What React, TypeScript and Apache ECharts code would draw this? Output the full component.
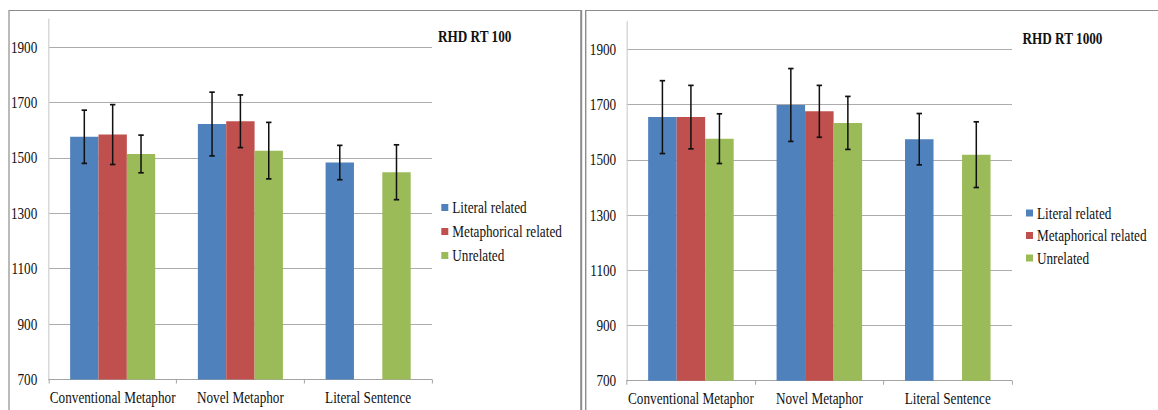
import React, { useEffect, useRef } from "react";
import * as echarts from "echarts";

// Categories, series and tick labels
const categories = ["Conventional Metaphor", "Novel Metaphor", "Literal Sentence"];
const seriesNames = ["Literal related", "Metaphorical related", "Unrelated"];
const seriesColors = ["#4F81BD", "#C0504D", "#9BBB59"];
const yTickLabels = [700, 900, 1100, 1300, 1500, 1700, 1900];

// RHD RT 100: means and error half-widths
const rt100Literal = [1576, 1622, 1483];
const rt100Metaphorical = [1584, 1632, null];
const rt100Unrelated = [1514, 1526, 1448];
const rt100LiteralErr = [96, 115, 62];
const rt100MetaphoricalErr = [108, 95, null];
const rt100UnrelatedErr = [68, 102, 99];

// RHD RT 1000: means and error half-widths
const rt1000Literal = [1655, 1699, 1575];
const rt1000Metaphorical = [1655, 1676, null];
const rt1000Unrelated = [1577, 1634, 1519];
const rt1000LiteralErr = [132, 132, 93];
const rt1000MetaphoricalErr = [115, 94, null];
const rt1000UnrelatedErr = [90, 96, 119];

const Y_MIN = 700;
const Y_MAX = 2000;
const Y_STEP = 100;

// The whole chart is drawn wider and squeezed horizontally, giving the narrow serif look.
const SX = 0.8;
const PAGE_W = 1158;
const PAGE_H = 410;
const W = PAGE_W / SX;
const sx = (x: number) => x / SX;

const FONT = "Liberation Serif, DejaVu Serif, serif";
const FONT_SIZE = 16.5;
const TEXT_COLOR = "#111111";
const GRID_COLOR = "#a3a3a3";
const BORDER_COLOR = "#8c8c8c";
const CATEGORY_GAP = 0.334;

type Num = number | null;

function errorData(values: Num[][], errs: Num[][]) {
  const out: number[][] = [];
  values.forEach((vals, s) => {
    vals.forEach((v, c) => {
      const e = errs[s][c];
      if (v == null || e == null) return;
      out.push([c, s, v - e, v + e]);
    });
  });
  return out;
}

function renderErrorBar(_params: any, api: any) {
  const cat = api.value(0);
  const sIdx = api.value(1);
  const low = api.value(2);
  const high = api.value(3);
  const band = api.size([1, 0])[0];
  const barW = (band * (1 - CATEGORY_GAP)) / 3;
  const pLow = api.coord([cat, low]);
  const pHigh = api.coord([cat, high]);
  const xc = pLow[0] + (sIdx - 1) * barW;
  const cap = 3.4;
  const vStyle = { stroke: "#111", lineWidth: 1.9 };
  const hStyle = { stroke: "#111", lineWidth: 1.7 };
  return {
    type: "group",
    children: [
      { type: "line", shape: { x1: xc, y1: pHigh[1], x2: xc, y2: pLow[1] }, style: vStyle },
      { type: "line", shape: { x1: xc - cap, y1: pHigh[1], x2: xc + cap, y2: pHigh[1] }, style: hStyle },
      { type: "line", shape: { x1: xc - cap, y1: pLow[1], x2: xc + cap, y2: pLow[1] }, style: hStyle },
    ],
  };
}

function xAxisFor(gridIndex: number) {
  return {
    type: "category",
    gridIndex,
    data: categories,
    boundaryGap: true,
    axisLine: { show: true, lineStyle: { color: GRID_COLOR, width: 1 } },
    axisTick: { show: true, length: 4, lineStyle: { color: GRID_COLOR, width: 1.25 } },
    axisLabel: {
      interval: 0,
      margin: 9,
      fontSize: FONT_SIZE,
      fontFamily: FONT,
      color: TEXT_COLOR,
    },
  };
}

function yAxisFor(gridIndex: number, margin: number) {
  return {
    type: "value",
    gridIndex,
    min: Y_MIN,
    max: Y_MAX,
    interval: Y_STEP,
    axisLine: { show: true, lineStyle: { color: "#d2d2d2", width: 1.6 } },
    axisTick: { show: false },
    axisLabel: {
      margin,
      fontSize: FONT_SIZE,
      fontFamily: FONT,
      color: TEXT_COLOR,
      formatter: (v: number) => (yTickLabels.includes(v) ? String(v) : ""),
    },
    splitLine: {
      show: true,
      showMinLine: true,
      showMaxLine: false,
      lineStyle: { color: [GRID_COLOR, "rgba(0,0,0,0)"], width: 1 },
    },
  };
}

function barSeries(gridIndex: number, values: Num[][]) {
  return values.map((data, s) => ({
    name: seriesNames[s],
    type: "bar",
    xAxisIndex: gridIndex,
    yAxisIndex: gridIndex,
    data,
    barGap: "0%",
    barCategoryGap: `${CATEGORY_GAP * 100}%`,
    itemStyle: { color: seriesColors[s] },
    emphasis: { disabled: true },
  }));
}

function errorSeries(gridIndex: number, values: Num[][], errs: Num[][]) {
  return {
    type: "custom",
    xAxisIndex: gridIndex,
    yAxisIndex: gridIndex,
    renderItem: renderErrorBar,
    encode: { x: 0, y: [2, 3] },
    data: errorData(values, errs),
    z: 10,
    silent: true,
  };
}

function legendAt(left: number, top: number, gap: number) {
  return {
    data: seriesNames,
    orient: "vertical",
    left,
    top,
    padding: 0,
    icon: "rect",
    itemWidth: 8.75,
    itemHeight: 7,
    itemGap: gap,
    selectedMode: false,
    textStyle: { fontSize: FONT_SIZE, fontFamily: FONT, color: TEXT_COLOR, lineHeight: 18 },
  };
}

function titleAt(text: string, left: number, top: number) {
  return {
    text,
    left,
    top,
    padding: 0,
    textStyle: { fontSize: FONT_SIZE, fontWeight: "bold", fontFamily: FONT, color: "#111" },
  };
}

function vLine(x: number, y1: number, y2: number, w: number) {
  return {
    type: "line",
    shape: { x1: sx(x), y1, x2: sx(x), y2 },
    style: { stroke: BORDER_COLOR, lineWidth: w / SX },
    silent: true,
  };
}

function hLine(x1: number, x2: number, y: number) {
  return {
    type: "line",
    shape: { x1: sx(x1), y1: y, x2: sx(x2), y2: y },
    style: { stroke: BORDER_COLOR, lineWidth: 1.2 },
    silent: true,
  };
}

export default function App() {
  const ref = useRef<HTMLDivElement>(null);

  useEffect(() => {
    if (!ref.current) return;
    const chart = echarts.init(ref.current, null, { renderer: "svg" });

    const rt100Values = [rt100Literal, rt100Metaphorical, rt100Unrelated];
    const rt100Errs = [rt100LiteralErr, rt100MetaphoricalErr, rt100UnrelatedErr];
    const rt1000Values = [rt1000Literal, rt1000Metaphorical, rt1000Unrelated];
    const rt1000Errs = [rt1000LiteralErr, rt1000MetaphoricalErr, rt1000UnrelatedErr];

    chart.setOption({
      animation: false,
      backgroundColor: "#ffffff",
      title: [titleAt("RHD RT 100", sx(438), 28), titleAt("RHD RT 1000", sx(1022.5), 30)],
      legend: [legendAt(sx(441.3), 198.5, 6), legendAt(sx(1026), 204, 4.5)],
      grid: [
        { left: sx(48.8), width: sx(432) - sx(48.8), top: 19.3, height: 379.5 - 19.3 },
        { left: sx(626.7), width: sx(1012) - sx(626.7), top: 21.9, height: 380.7 - 21.9 },
      ],
      xAxis: [xAxisFor(0), xAxisFor(1)],
      yAxis: [yAxisFor(0, sx(11.5)), yAxisFor(1, sx(10.5))],
      series: [
        ...barSeries(0, rt100Values),
        errorSeries(0, rt100Values, rt100Errs),
        ...barSeries(1, rt1000Values),
        errorSeries(1, rt1000Values, rt1000Errs),
      ],
      graphic: [
        hLine(9, 581.7, 10.5),
        vLine(9, 10, PAGE_H, 1.2),
        vLine(581.2, 10, PAGE_H, 2),
        hLine(585.7, PAGE_W, 10.5),
        vLine(585.7, 10, PAGE_H, 1.4),
      ],
    });

    return () => chart.dispose();
  }, []);

  return (
    <div
      style={{
        position: "fixed",
        left: 0,
        top: 0,
        width: PAGE_W,
        height: PAGE_H,
        overflow: "hidden",
        background: "#ffffff",
      }}
    >
      <div
        ref={ref}
        style={{ width: W, height: PAGE_H, transform: `scaleX(${SX})`, transformOrigin: "0 0" }}
      />
    </div>
  );
}
